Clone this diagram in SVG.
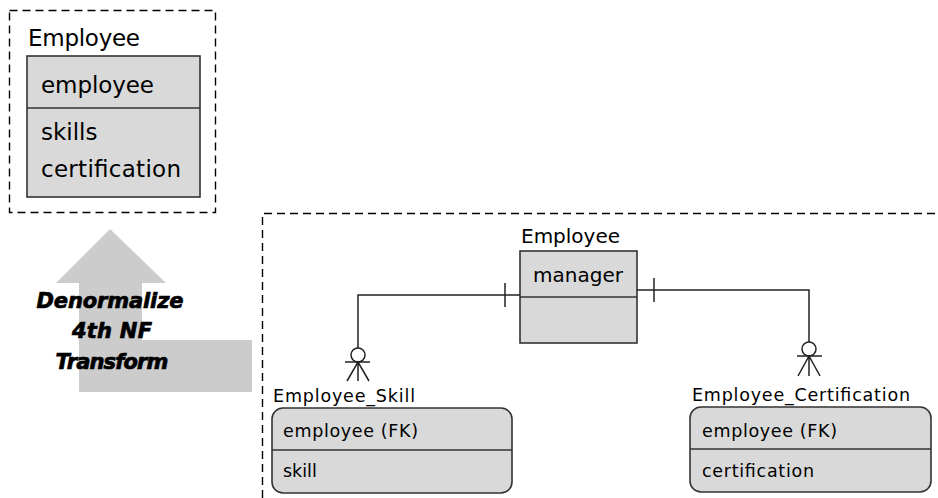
<svg xmlns="http://www.w3.org/2000/svg" width="938" height="498" viewBox="0 0 938 498">
<style>
.dash{fill:none;stroke:#000;stroke-width:1.4;stroke-dasharray:8 5}
.box{fill:#d9d9d9;stroke:#333;stroke-width:1.6}
.div{stroke:#333;stroke-width:1.6}
.t{font-family:"DejaVu Sans","Liberation Sans",sans-serif;fill:#000}
.big{font-size:23px}
.mid{font-size:20px}
.sm{font-size:17.5px}
.bi{font-family:"DejaVu Sans","Liberation Sans",sans-serif;font-weight:bold;font-style:italic;font-size:21px;fill:#000;stroke:#000;stroke-width:0.7;text-anchor:middle}
.ln{fill:none;stroke:#222;stroke-width:1.5}
</style>
<rect width="938" height="498" fill="#fff"/>
<g id="frames">
<rect class="dash" x="9.5" y="10.5" width="206" height="202"/>
<path class="dash" d="M262.5 498 V213.5 H938"/>
</g>
<g id="arrow">
<polygon points="110,229 166,283 142,283 142,340 252,340 252,392 79,392 79,283 56,283" fill="#cccccc"/>
<text class="bi" x="110" y="308" textLength="147">Denormalize</text>
<text class="bi" x="112" y="338" textLength="80">4th NF</text>
<text class="bi" x="112" y="369" textLength="113">Transform</text>
</g>
<g id="employee-denorm">
<text class="t big" x="28" y="46" textLength="112">Employee</text>
<rect class="box" x="27" y="56" width="173" height="141"/>
<line class="div" x1="27" y1="108" x2="200" y2="108"/>
<text class="t big" x="41" y="93" textLength="113">employee</text>
<text class="t big" x="41" y="140">skills</text>
<text class="t big" x="41" y="177" textLength="140">certification</text>
</g>
<g id="employee">
<text class="t mid" x="521" y="243" textLength="99">Employee</text>
<rect class="box" x="520" y="251" width="117" height="92"/>
<line class="div" x1="520" y1="297" x2="637" y2="297"/>
<text class="t mid" x="533" y="282" textLength="90">manager</text>
</g>
<g id="employee-skill">
<text class="t sm" x="273" y="402" textLength="142">Employee_Skill</text>
<rect class="box" x="272" y="408" width="240" height="85" rx="11"/>
<line class="div" x1="272" y1="450" x2="512" y2="450"/>
<text class="t sm" x="283" y="437" textLength="135">employee (FK)</text>
<text class="t sm" x="283" y="477">skill</text>
</g>
<g id="employee-certification">
<text class="t sm" x="692" y="401" textLength="218">Employee_Certification</text>
<rect class="box" x="690" y="407" width="241" height="85" rx="11"/>
<line class="div" x1="690" y1="449" x2="931" y2="449"/>
<text class="t sm" x="702" y="437" textLength="135">employee (FK)</text>
<text class="t sm" x="702" y="477" textLength="112">certification</text>
</g>
<g id="connectors">
<path class="ln" d="M520 295 H358 V348"/>
<line class="ln" x1="505" y1="283" x2="505" y2="307"/>
<circle class="ln" cx="358" cy="355" r="7"/>
<line class="ln" x1="345" y1="362" x2="370" y2="362"/>
<path class="ln" d="M347 381 L358 362 L369 381 M358 362 V381"/>
<path class="ln" d="M637 290 H809 V342"/>
<line class="ln" x1="654" y1="278" x2="654" y2="302"/>
<circle class="ln" cx="809" cy="349" r="7"/>
<line class="ln" x1="797" y1="356" x2="822" y2="356"/>
<path class="ln" d="M798 376 L809 356 L820 376 M809 356 V376"/>
</g>
</svg>
